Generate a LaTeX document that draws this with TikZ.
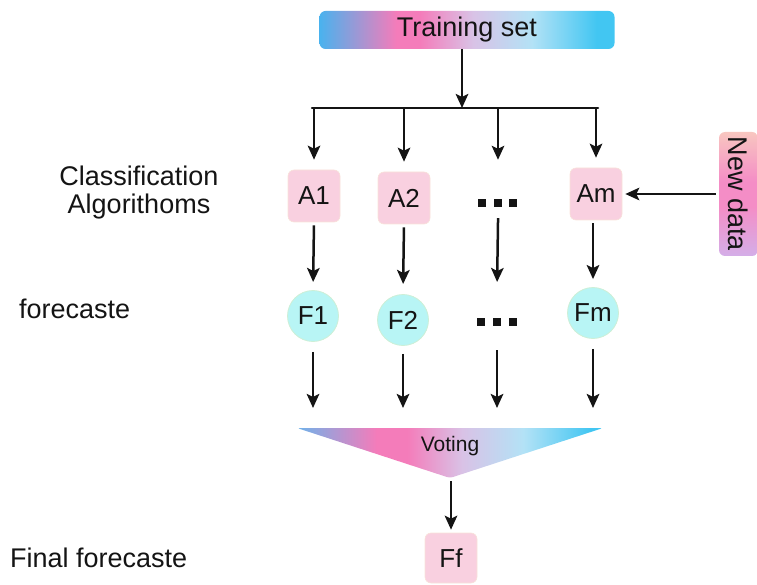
\documentclass[tikz,border=0pt]{standalone}
\usepackage{fontspec}
\setmainfont{Liberation Sans}
\usetikzlibrary{arrows.meta}

\definecolor{ink}{HTML}{141414}
\definecolor{boxpink}{HTML}{F9D0E0}
\definecolor{boxedge}{HTML}{F8E2DA}
\definecolor{circcyan}{HTML}{B8F5F5}
\definecolor{circedge}{HTML}{CDEFD6}
\definecolor{sblue}{HTML}{4AB2EE}
\definecolor{spink}{HTML}{F47CBA}
\definecolor{slav}{HTML}{D9C2E6}
\definecolor{slblue}{HTML}{B3E2F6}
\definecolor{scyan}{HTML}{42C6F2}
\definecolor{tleft}{HTML}{6FB2EA}
\definecolor{npeach}{HTML}{F8C6C0}
\definecolor{npink}{HTML}{F48DC6}
\definecolor{nlav}{HTML}{D4AEE8}

% colour bands stretched over the path's bounding box (25bp .. 75bp)
\pgfdeclarehorizontalshading{trainshade}{100bp}{color(0bp)=(sblue); color(25bp)=(sblue);
  color(38bp)=(spink); color(42bp)=(spink); color(51bp)=(slav); color(61bp)=(slblue);
  color(72bp)=(scyan); color(75bp)=(scyan); color(100bp)=(scyan)}
\pgfdeclarehorizontalshading{voteshade}{100bp}{color(0bp)=(tleft); color(25bp)=(tleft);
  color(38bp)=(spink); color(43bp)=(spink); color(52bp)=(slav); color(62bp)=(slblue);
  color(73bp)=(scyan); color(75bp)=(scyan); color(100bp)=(scyan)}
% bottom to top: lavender, pink, peach
\pgfdeclareverticalshading{newshade}{100bp}{color(0bp)=(nlav); color(25bp)=(nlav);
  color(45bp)=(npink); color(55bp)=(npink); color(75bp)=(npeach); color(100bp)=(npeach)}

\begin{document}
\begin{tikzpicture}[x=1pt,y=-1pt,
  every node/.style={text=ink, font=\fontsize{26}{30}\selectfont, inner sep=0pt},
  algbox/.style={rectangle, rounded corners=6pt, fill=boxpink, draw=boxedge,
    line width=0.6pt, minimum width=52pt, minimum height=52pt},
  fcircle/.style={circle, fill=circcyan, draw=circedge, line width=0.8pt, minimum size=51pt},
  gap/.style={rectangle, minimum width=44pt, minimum height=52pt},
  sidelabel/.style={font=\fontsize{27}{28}\selectfont},
  arrow/.style={draw=ink, line width=2.5pt, -{Stealth[length=14pt,width=12.5pt,inset=3pt]}},
  link/.style={draw=ink, line width=2.5pt}]

\useasboundingbox (0,0) rectangle (757,585);

% training set and distribution bar
\node (train) [shade, shading=trainshade, rounded corners=6pt,
  minimum width=295pt, minimum height=38pt, font=\fontsize{27}{30}\selectfont]
  at (467,30) {Training set};
\coordinate (bar) at (462,108);
\coordinate (barL) at (312,108);
\coordinate (barR) at (598,108);
\draw[arrow] (train.south -| bar) -- (bar);
\draw[link, line cap=round] (barL) -- (barR);

% classification algorithms
\node (A1) [algbox] at (314,196) {A1};
\node (A2) [algbox] at (404,198) {A2};
\node (d1) [gap]    at (498,196) {};
\node (Am) [algbox] at (596,194) {Am};
\foreach \dx in {-16,0,15}
  \fill[ink] ([shift={(\dx-4,3)}]d1.center) rectangle ++(8,8);

\foreach \n in {A1,A2,d1,Am}
  \draw[arrow, shorten >=10pt] (\n.north |- bar) -- (\n.north);

% new data: shaded strip with text running downwards
\shade[shading=newshade, rounded corners=6pt] (719,132) rectangle (758,256);
\node (newd) [rotate=-90, minimum width=123pt, minimum height=38pt,
  font=\fontsize{27}{30}\selectfont] at (738,194) {New data};
\draw[arrow, shorten <=3pt, shorten >=3pt] (newd.south) -- (Am.east);

% forecasts
\node (F1) [fcircle] at (313,316) {F1};
\node (F2) [fcircle] at (403,320) {F2};
\node (d2) [gap]     at (497,316) {};
\node (Fm) [fcircle] at (593,313) {Fm};
\foreach \dx in {-16,0,16}
  \fill[ink] ([shift={(\dx-4,2)}]d2.center) rectangle ++(8,8);

\draw[arrow, shorten <=3pt, shorten >=8pt] (A1.south) -- (F1.north |- 0,290);
\draw[arrow, shorten <=3pt, shorten >=8pt] (A2.south) -- (F2.north |- 0,292);
\draw[arrow, shorten <=-4pt, shorten >=8pt] (d1.south) -- (d2.north |- 0,290);
\draw[arrow, shorten <=3pt, shorten >=8pt] (Fm.north |- Am.south) -- (Fm.north);

% voting
\coordinate (vtop) at (450,428);
\coordinate (vapex) at (450,478);
\shade[shading=voteshade, rounded corners=3pt] (297,428) -- (603,428) -- (vapex) -- cycle;
\node (vote) [font=\fontsize{21}{24}\selectfont] at (450,446) {Voting};

\draw[arrow, shorten <=10pt, shorten >=20pt] (F1.south) -- (F1.south |- vtop);
\draw[arrow, shorten <=8pt, shorten >=20pt] (F2.south) -- (F2.south |- vtop);
\draw[arrow, shorten <=8pt, shorten >=20pt] (d2.south) -- (d2.south |- vtop);
\draw[arrow, shorten <=10pt, shorten >=20pt] (Fm.south) -- (Fm.south |- vtop);

% final forecast
\node (Ff) [algbox, minimum height=50pt] at (451,558) {Ff};
\draw[arrow, shorten <=3pt, shorten >=3pt] (Ff.north |- vapex) -- (Ff.north);

% row labels
\node (cls) [sidelabel, align=center] at (139,193) {Classification\\Algorithoms};
\node (fc)  [sidelabel, anchor=base west] at (19,318) {forecaste};
\node (ffc) [sidelabel, anchor=base west] at (10,567) {Final forecaste};
\end{tikzpicture}
\end{document}
